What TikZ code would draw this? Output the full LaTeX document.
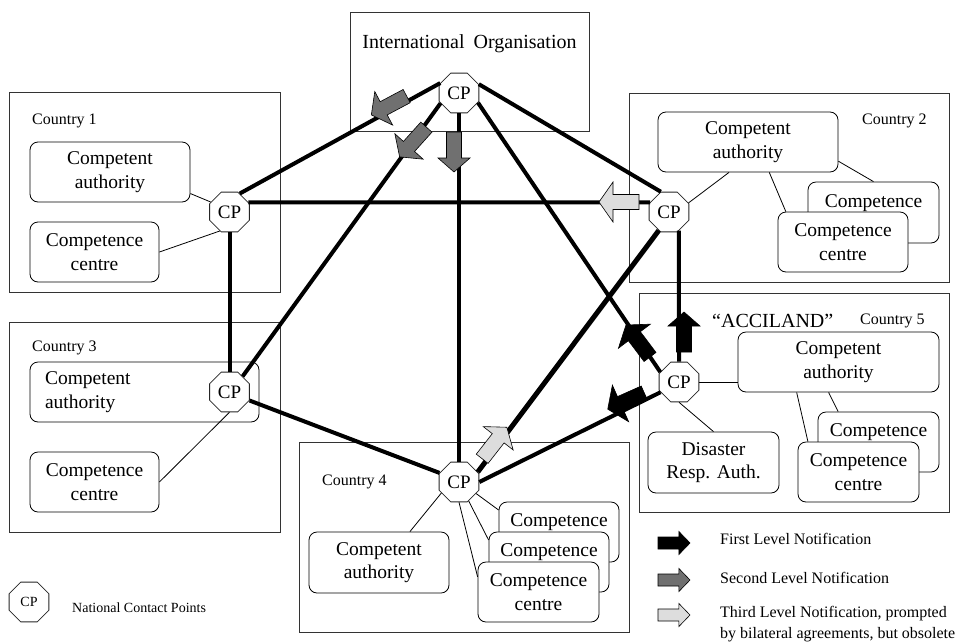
\documentclass[tikz,border=0pt]{standalone}
\usepackage{fontspec}
\setmainfont{Liberation Serif}
\usetikzlibrary{shapes.geometric,calc}
\definecolor{darkarrow}{RGB}{112,112,112}
\definecolor{lightarrow}{RGB}{221,221,221}
\tikzset{
  arrowlook/.style={},
  pics/barrow/.style={code={\filldraw[arrowlook] (-20,-7.5) -- (6,-7.5) -- (6,-#1) -- (20,0) -- (6,#1) -- (6,7.5) -- (-20,7.5) -- cycle;}},
  country/.style={draw=black!80, line width=1pt},
  rbox/.style={draw, rounded corners=8pt, fill=white, align=center, inner sep=0pt, line width=0.8pt, font=\fontsize{19.5}{23.5}\selectfont},
  cp/.style={regular polygon, regular polygon sides=8, minimum size=43pt, draw=black!85, line width=0.8pt, fill=white, inner sep=0pt, font=\fontsize{19}{22}\selectfont},
  link/.style={line width=4pt},
  fine/.style={line width=0.8pt},
  clabel/.style={anchor=base west, inner sep=0pt, font=\fontsize{16}{18}\selectfont},
  legtext/.style={anchor=base west, inner sep=0pt, font=\fontsize{16}{18}\selectfont},
  firstlvl/.style={draw=black, fill=black, line width=0.6pt},
  secondlvl/.style={draw=black, fill=darkarrow, line width=0.6pt},
  thirdlvl/.style={draw=black, fill=lightarrow, line width=0.6pt}
}
\begin{document}
\begin{tikzpicture}[x=1pt,y=-1pt]
\useasboundingbox (0,0) rectangle (966,643);

% International organisation
\draw[country] (350,12) rectangle (589,131);
\node[anchor=base, inner sep=0pt, font=\fontsize{20}{24}\selectfont] (iot) at (469.5,48) {International\hspace{0.45em}Organisation};

% Country 1
\draw[country] (9,92) rectangle (280,292);
\node[clabel] (l1) at (32,124) {Country 1};
\node[rbox, minimum width=160pt, minimum height=60pt] (ca1) at (110,172) {Competent\\authority};
\node[rbox, minimum width=129pt, minimum height=60pt] (cc1) at (94.5,252) {Competence\\centre};

% Country 3
\draw[country] (9,322) rectangle (280,532);
\node[clabel] (l3) at (32,351) {Country 3};
\node[rbox, minimum width=229pt, minimum height=60pt, text width=199pt, align=left] (ca3) at (144.5,392) {Competent\\authority};
\node[rbox, minimum width=129pt, minimum height=60pt] (cc3) at (94.5,482) {Competence\\centre};

% Country 2
\draw[country] (629,93) rectangle (949,282);
\node[clabel] (l2) at (862,124) {Country 2};
\node[rbox, minimum width=180pt, minimum height=60pt] (ca2) at (748,142) {Competent\\authority};
\node[rbox, minimum width=131pt, minimum height=61pt] (cb2) at (873.5,212.5) {Competence\\\phantom{centre}};
\node[rbox, minimum width=130pt, minimum height=60pt] (cc2) at (843,242) {Competence\\centre};

% Country 5
\draw[country] (639,293) rectangle (949,512);
\node[clabel] (l5) at (860,324) {Country 5};
\node[anchor=base west, inner sep=0pt, font=\fontsize{20}{24}\selectfont] (acc) at (712,327) {“ACCILAND”};
\node[rbox, minimum width=201pt, minimum height=60pt] (ca5) at (838.5,362) {Competent\\authority};
\node[rbox, minimum width=121pt, minimum height=60pt] (cb5) at (878.5,442) {Competence\\\phantom{centre}};
\node[rbox, minimum width=121pt, minimum height=60pt] (cc5) at (858.5,472) {Competence\\centre};
\node[rbox, minimum width=131pt, minimum height=61pt] (dr5) at (713.5,462.5) {Disaster\\Resp. Auth.};

% Country 4
\draw[country] (299,442) rectangle (629,632);
\node[clabel] (l4) at (322,485) {Country 4};
\node[rbox, minimum width=140pt, minimum height=61pt] (ca4) at (379,562.5) {Competent\\authority};
\node[rbox, minimum width=120pt, minimum height=60pt] (b41) at (559,532) {Competence\\\phantom{centre}};
\node[rbox, minimum width=120pt, minimum height=60pt] (b42) at (549,562) {Competence\\\phantom{centre}};
\node[rbox, minimum width=121pt, minimum height=60pt] (cc4) at (538.5,592) {Competence\\centre};

% Contact points
\node[cp] (c0) at (459,93) {CP};
\node[cp] (c1) at (229.5,212) {CP};
\node[cp] (c2) at (669,212) {CP};
\node[cp] (c3) at (229.5,392) {CP};
\node[cp] (c4) at (459,482) {CP};
\node[cp] (c5) at (679,382) {CP};

% thick links between contact points
\draw[link] (c0.152) -- (c1.61);
\draw[link] (c0.24) -- (c2.112);
\draw[link] (c0.209) -- (c3.50);
\draw[link] (c0.south) -- (c4.north);
\draw[link] (c0.333) -- (c5.152);
\draw[link] (c1.27) -- (c2.153);
\draw[link] (c1.south) -- (c3.north);
\draw[link] (c3.-23) -- (c4.155);
\draw[link, line width=5pt] (c4.28) -- (c2.241);
\draw[link] (c2.-62) -- (c5.north);
\draw[link] (c4.east) -- (c5.209);

% thin links inside countries
\draw[fine] (ca1.-15) -- (c1.152);
\draw[fine] (cc1.east) -- (c1.243);
\draw[fine] (cc3.east) -- (c3.south);
\draw[fine] (c2.25) -- (ca2.238);
\draw[fine] (ca2.-12.5) -- (cb2.north);
\draw[fine] (ca2.-55) -- (cc2.152);
\draw[fine] (c5.east) -- (c5.east -| ca5.west);
\draw[fine] (c5.south) -- (dr5.north);
\draw[fine] (ca5.252) -- (cb5.143);
\draw[fine] (ca5.216) -- (cc5.149);
\draw[fine] (c4.212) -- (ca4.45);
\draw[fine] (c4.-34) -- (b41.160);
\draw[fine] (c4.-63) -- (b42.160);
\draw[fine] (c4.south) -- (cc4.166);

% notification arrows
\pic[arrowlook/.style=secondlvl, rotate=208] at (389,105.5) {barrow=19};
\pic[arrowlook/.style=secondlvl, rotate=228] at (413,142) {barrow=19};
\pic[arrowlook/.style=secondlvl, rotate=270] at (454,152) {barrow=16};
\pic[arrowlook/.style=thirdlvl, rotate=180] at (619,202) {barrow=20};
\pic[arrowlook/.style=thirdlvl, rotate=52] at (494.5,443) {barrow=19};
\pic[arrowlook/.style=firstlvl, rotate=90] at (684,332) {barrow=16};
\pic[arrowlook/.style=firstlvl, rotate=127] at (638,341) {barrow=20};
\pic[arrowlook/.style=firstlvl, rotate=204] at (626,401) {barrow=20};

% legend
\node[cp, font=\fontsize{14}{16}\selectfont] (lcp) at (29,602) {CP};
\node[anchor=base west, inner sep=0pt, font=\fontsize{14}{16}\selectfont] (lcpt) at (72,612) {National Contact Points};
\pic[arrowlook/.style=firstlvl, scale=0.8] at (674,543) {barrow=14.5};
\pic[arrowlook/.style=secondlvl, scale=0.8] at (674,580) {barrow=14.5};
\pic[arrowlook/.style=thirdlvl, scale=0.8] at (674,615) {barrow=14.5};
\node[legtext] (lg1) at (720,544) {First Level Notification};
\node[legtext] (lg2) at (720,583) {Second Level Notification};
\node[legtext] (lg3) at (720,617) {Third Level Notification, prompted};
\node[legtext] (lg4) at (720,638) {by bilateral agreements, but obsolete};
\end{tikzpicture}
\end{document}
